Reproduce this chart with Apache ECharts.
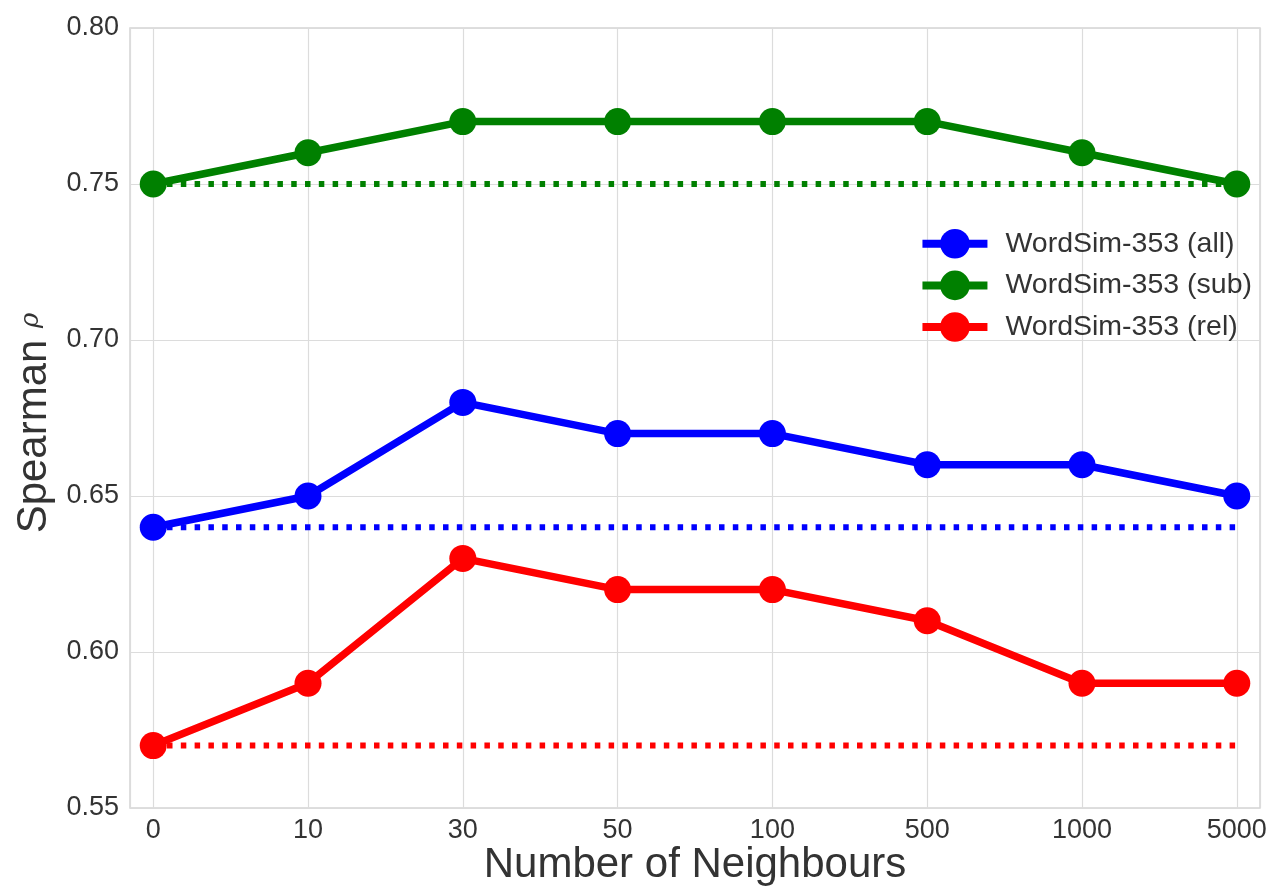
<!DOCTYPE html>
<html>
<head>
<meta charset="utf-8">
<script src="https://cdn.jsdelivr.net/npm/echarts@6/dist/echarts.min.js"></script>
<style>html,body{margin:0;padding:0;background:#fff;}#c{width:1272px;height:887px;}</style>
</head>
<body>
<div id="c"></div>
<script>
var categories = ['0', '10', '30', '50', '100', '500', '1000', '5000'];
var allValues = [0.64, 0.65, 0.68, 0.67, 0.67, 0.66, 0.66, 0.65];
var subValues = [0.75, 0.76, 0.77, 0.77, 0.77, 0.77, 0.76, 0.75];
var relValues = [0.57, 0.59, 0.63, 0.62, 0.62, 0.61, 0.59, 0.59];
var baselineAll = 0.64;
var baselineSub = 0.75;
var baselineRel = 0.57;
var seriesNames = ['WordSim-353 (all)', 'WordSim-353 (sub)', 'WordSim-353 (rel)'];
var colors = ['#0000ff', '#008000', '#ff0000'];

function pairs(vals) { return vals.map(function (v, i) { return [i, v]; }); }
function flat(v) { return categories.map(function (c, i) { return [i, v]; }); }

var FONT = 'Liberation Sans, Arial, sans-serif';
var chart = echarts.init(document.getElementById('c'), null, {renderer: 'canvas'});

var baselines = [baselineAll, baselineSub, baselineRel];
var mainVals = [allValues, subValues, relValues];
var series = [];
baselines.forEach(function (b, k) {
  series.push({
    name: 'base' + k, type: 'line', data: flat(b), symbol: 'none', silent: true, z: 1,
    lineStyle: {color: colors[k], width: 6, type: [5.5, 8.3], cap: 'butt'}
  });
});
mainVals.forEach(function (vals, k) {
  series.push({
    name: seriesNames[k], type: 'line', data: pairs(vals), z: 2,
    symbol: 'circle', symbolSize: 27,
    itemStyle: {color: colors[k]},
    lineStyle: {color: colors[k], width: 7.5}
  });
});

chart.setOption({
  animation: false,
  backgroundColor: '#ffffff',
  grid: {left: 130, right: 12, top: 28, bottom: 79, show: true, borderColor: '#d4d4d4', borderWidth: 1.5,
    containLabel: false, outerBoundsMode: 'none'},
  legend: {
    data: seriesNames, orient: 'vertical', right: 15, top: 224,
    itemWidth: 65, itemHeight: 37, itemGap: 12,
    lineStyle: {width: 8},
    textStyle: {fontFamily: FONT, fontSize: 28.5, color: '#333333', padding: [0, 0, 0, 13]}
  },
  xAxis: {
    type: 'value', min: -0.15, max: 7.15, minInterval: 1, maxInterval: 1,
    axisLine: {show: false}, axisTick: {show: false},
    splitLine: {show: true, lineStyle: {color: '#dcdcdc', width: 1.2}},
    axisLabel: {
      fontFamily: FONT, fontSize: 27, color: '#333333', margin: 9, showMinLabel: false, showMaxLabel: false,
      formatter: function (v) { var i = Math.round(v); return Math.abs(v - i) < 1e-6 && categories[i] !== undefined ? categories[i] : ''; }
    },
    name: 'Number of Neighbours', nameLocation: 'middle', nameGap: 36, nameMoveOverlap: false,
    nameTextStyle: {fontFamily: FONT, fontSize: 42, color: '#333333'}
  },
  yAxis: {
    type: 'value', min: 0.55, max: 0.80, interval: 0.05,
    axisLine: {show: false}, axisTick: {show: false},
    splitLine: {show: true, lineStyle: {color: '#dcdcdc', width: 1.2}},
    axisLabel: {fontFamily: FONT, fontSize: 27, color: '#333333', margin: 11,
      formatter: function (v) { return v.toFixed(2); }},
    name: 'Spearman {r|ρ}', nameLocation: 'middle', nameGap: 75, nameMoveOverlap: false,
    nameTextStyle: {fontFamily: FONT, fontSize: 42, color: '#333333',
      rich: {r: {fontFamily: 'DejaVu Serif, serif', fontStyle: 'italic', fontSize: 26, color: '#333333', padding: [0, 10, 6, 0]}}}
  },
  series: series
});
</script>
</body>
</html>
